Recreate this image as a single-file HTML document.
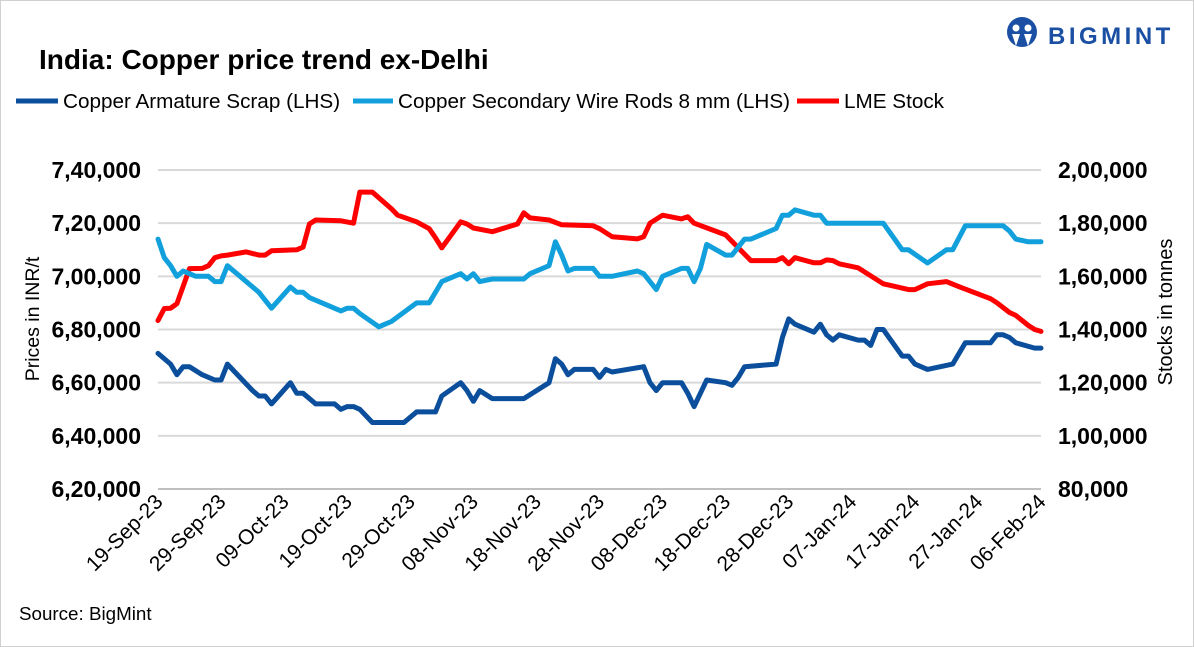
<!DOCTYPE html>
<html><head><meta charset="utf-8"><style>
body{margin:0;background:#fff;font-family:"Liberation Sans",sans-serif;}
#wrap{position:relative;width:1192px;height:645px;border:1px solid #d0d0d0;overflow:hidden;background:#fff}
</style></head><body>
<div id="wrap">
<svg id="svg" width="1194" height="647" xmlns="http://www.w3.org/2000/svg">
<text x="38" y="68" font-size="28" font-weight="bold" fill="#000">India: Copper price trend ex-Delhi</text>
<g>
<circle cx="1021" cy="31" r="15" fill="#1a4fa3"/>
<circle cx="1015" cy="27" r="3.5" fill="#fff"/><circle cx="1027" cy="27" r="3.5" fill="#fff"/>
<path d="M1011 33 L1015 45 L1019 33 Z M1023 33 L1027 45 L1031 33 Z" fill="#fff"/>
<text x="1047" y="43" font-size="24" font-weight="bold" fill="#1a4fa3" letter-spacing="3.5">BIGMINT</text>
</g>
<g>
<g><line x1="15" y1="100" x2="57" y2="100" stroke="#0b4f9c" stroke-width="5"/><text x="62" y="107" font-size="20.7">Copper Armature Scrap (LHS)</text></g>
<g><line x1="352" y1="100" x2="392" y2="100" stroke="#12a0dc" stroke-width="5"/><text x="397" y="107" font-size="20.7">Copper Secondary Wire Rods 8 mm (LHS)</text></g>
<g><line x1="796" y1="100" x2="838" y2="100" stroke="#ff0000" stroke-width="5"/><text x="843" y="107" font-size="20.7">LME Stock</text></g>
</g>
<g id="grid"></g><g id="axes"></g><g id="series"></g>
<text transform="translate(38,318) rotate(-90)" text-anchor="middle" font-size="19.5">Prices in INR/t</text>
<text transform="translate(1171,311) rotate(-90)" text-anchor="middle" font-size="20">Stocks in tonnes</text>
<text x="18" y="619" font-size="18.8">Source: BigMint</text>
</svg>
</div>
<script>
const xTickDays=[0,10,20,30,40,50,60,70,80,90,100,110,120,130,140];
const xTickLabels=["19-Sep-23","29-Sep-23","09-Oct-23","19-Oct-23","29-Oct-23","08-Nov-23","18-Nov-23","28-Nov-23","08-Dec-23","18-Dec-23","28-Dec-23","07-Jan-24","17-Jan-24","27-Jan-24","06-Feb-24"];
const leftTicks=[620000,640000,660000,680000,700000,720000,740000];
const leftTickLabels=["6,20,000","6,40,000","6,60,000","6,80,000","7,00,000","7,20,000","7,40,000"];
const rightTicks=[80000,100000,120000,140000,160000,180000,200000];
const rightTickLabels=["80,000","1,00,000","1,20,000","1,40,000","1,60,000","1,80,000","2,00,000"];
const scrapDays=[0,2,3,4,5,7,9,10,11,13,15,16,17,18,21,22,23,24,25,28,29,30,31,32,34,39,41,44,45,48,49,50,51,53,58,62,63,64,65,66,69,70,71,72,77,78,79,80,83,84,85,87,90,91,92,93,98,99,100,101,104,105,106,107,108,111,112,113,114,115,118,119,120,122,126,128,132,133,134,135,136,139,140];
const scrapVals=[671,667,663,666,666,663,661,661,667,662,657,655,655,652,660,656,656,654,652,652,650,651,651,650,645,645,649,649,655,660,657,653,657,654,654,660,669,667,663,665,665,662,665,664,666,660,657,660,660,656,651,661,660,659,662,666,667,677,684,682,679,682,678,676,678,676,676,674,680,680,670,670,667,665,667,675,675,678,678,677,675,673,673];
const rodDays=[0,1,2,3,4,5,6,8,9,10,11,16,18,21,22,23,24,29,30,31,32,35,37,41,43,45,48,49,50,51,53,58,59,62,63,64,65,66,69,70,72,76,77,79,80,83,84,85,86,87,90,91,93,94,98,99,100,101,104,105,106,115,118,119,122,125,126,128,134,135,136,138,140];
const rodVals=[714,707,704,700,702,701,700,700,698,698,704,694,688,696,694,694,692,687,688,688,686,681,683,690,690,698,701,699,701,698,699,699,701,704,713,708,702,703,703,700,700,702,701,695,700,703,703,698,703,712,708,708,714,714,718,723,723,725,723,723,720,720,710,710,705,710,710,719,719,717,714,713,713];
const lmeDays=[0,1,2,3,5,7,8,9,10,11,14,16,17,18,22,23,24,25,29,31,32,34,37,38,41,43,44,45,48,49,50,53,57,58,59,62,64,69,70,72,76,77,78,80,83,84,85,90,94,98,99,100,101,104,105,106,107,108,111,113,115,119,120,122,125,127,132,133,135,136,138,139,140];
const lmeVals=[143.4,147.9,148,149.7,162.9,163,164,167,167.7,168,169.2,168,168,169.6,170,171,179.7,181.2,180.9,180,191.7,191.7,185.4,183,180.5,177.9,174.5,170.7,180.5,179.7,178.2,176.8,179.7,183.9,182,181.2,179.4,179,177.9,174.9,174.1,174.9,180,183,181.6,182.4,180,175.6,165.9,165.9,167,164.7,167,165.1,165.1,166.2,165.9,164.7,163.2,160.2,157.2,155,155,157.2,158,156.1,151.6,150.1,146.4,145.3,141.5,140,139.3];

const NS="http://www.w3.org/2000/svg";
const X0=157,X1=1040,Y0=488,Y1=169;
const xs=d=>X0+(d/140)*(X1-X0);
const yl=v=>Y0-(v-620000)/(740000-620000)*(Y0-Y1);
const yr=v=>Y0-(v-80000)/(200000-80000)*(Y0-Y1);
function mk(tag,attrs,parent){const e=document.createElementNS(NS,tag);for(const k in attrs)e.setAttribute(k,attrs[k]);parent.appendChild(e);return e;}
const grid=document.getElementById('grid'),axes=document.getElementById('axes'),series=document.getElementById('series');
leftTicks.forEach((v,i)=>{
  const l=mk('line',{x1:X0,x2:X1,y1:yl(v),y2:yl(v),stroke:i==0?'#bfbfbf':'#d9d9d9','stroke-width':2},grid);
  
  
  const t=mk('text',{x:140,y:yl(v)+8,'text-anchor':'end','font-size':23,'font-weight':'bold'},axes);
  t.textContent=leftTickLabels[i];
  
  
});
rightTicks.forEach((v,i)=>{
  const t=mk('text',{x:1057,y:yr(v)+8,'font-size':23,'font-weight':'bold'},axes);
  t.textContent=rightTickLabels[i];
  
  
});
xTickDays.forEach((d,i)=>{
  const x=xs(d);
  const t=mk('text',{transform:`translate(${x+6},${Y0+14}) rotate(-45)`,'text-anchor':'end','font-size':21},axes);
  t.textContent=xTickLabels[i];
  
  
});
function line(days,vals,fy,color,name){
  const pts=days.map((d,i)=>xs(d).toFixed(1)+','+fy(vals[i]).toFixed(1)).join(' ');
  const p=mk('polyline',{points:pts,fill:'none',stroke:color,'stroke-width':5,'stroke-linejoin':'round','stroke-linecap':'round'},series);
  
  
}
line(lmeDays,lmeVals.map(v=>v*1000),yr,'#ff0000','lme-stock-line');
line(rodDays,rodVals.map(v=>v*1000),yl,'#12a0dc','wire-rods-line');
line(scrapDays,scrapVals.map(v=>v*1000),yl,'#0b4f9c','armature-scrap-line');
</script>
</body></html>
